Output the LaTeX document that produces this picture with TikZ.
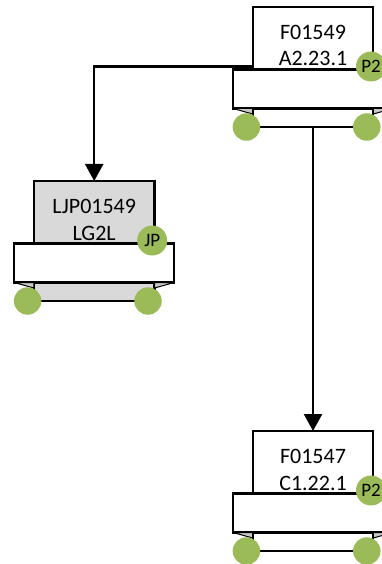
\documentclass[tikz,border=0pt]{standalone}
\usepackage{fontspec}
\setmainfont{Carlito}
\usetikzlibrary{arrows.meta,calc}
\definecolor{tagGreen}{HTML}{9BBB59}
\definecolor{boxGrey}{HTML}{D9D9D9}
\definecolor{foldGrey}{HTML}{C8C8C8}
\tikzset{
  boxst/.style={draw=black, line width=2.2pt, inner sep=0pt, outer sep=0pt, minimum width=120.6pt, minimum height=120pt},
  bannerst/.style={draw=black, fill=white, line width=2.2pt, inner sep=0pt, outer sep=0pt, minimum width=160pt, minimum height=39pt},
  txtst/.style={inner sep=0pt, font=\fontsize{22}{25}\selectfont, anchor=base},
  dotst/.style={circle, fill=tagGreen, inner sep=0pt, minimum size=27.5pt},
  tagst/.style={circle, fill=tagGreen, inner sep=0pt, minimum size=30pt, font=\fontsize{19}{22}\selectfont},
  foldst/.style={fill=foldGrey, draw=black, line width=1pt, line join=round},
  conn/.style={line width=2.4pt, -{Triangle[width=18pt,length=17pt]}}
}
\newcommand{\mycard}[7]{%
  \node[boxst, fill=#4, anchor=north] (#1) at (#2,#3) {};
  \node[txtst] (#1l1) at (#2,#3+32.5) {#5};
  \node[txtst] (#1l2) at (#2,#3+59) {#6};
  \node[bannerst, anchor=north] (#1b) at (#2,#3+62.5) {};
  \coordinate (#1fl) at (#1.west |- #1b.south);
  \coordinate (#1fr) at (#1.east |- #1b.south);
  \draw[foldst] (#1b.south west) -- (#1fl) -- ($(#1fl)+(0,5.5)$) -- cycle;
  \draw[foldst] (#1b.south east) -- (#1fr) -- ($(#1fr)+(0,5.5)$) -- cycle;
  \node[dotst] (#1c1) at ($(#1.south west)+(-6.3,0)$) {};
  \node[dotst] (#1c2) at ($(#1.south east)+(-6.5,0)$) {};
  \node[tagst] (#1t) at ($(#1.north east)+(-2.3,59.5)$) {#7};
}
\begin{document}
\begin{tikzpicture}[x=1pt,y=-1pt]
\useasboundingbox (0,0) rectangle (382,564);
\mycard{A}{313}{7}{white}{F01549}{A2.23.1}{P2}
\mycard{B}{94.2}{181}{boxGrey}{LJP01549}{LG2L}{JP}
\mycard{C}{313}{431}{white}{F01547}{C1.22.1}{P2}
\coordinate (bend) at (B.north |- 0,66.7);
\draw[conn] (A.west |- bend) -- (bend) -- (B.north);
\draw[conn] (A.south) -- (C.north);
\end{tikzpicture}
\end{document}
